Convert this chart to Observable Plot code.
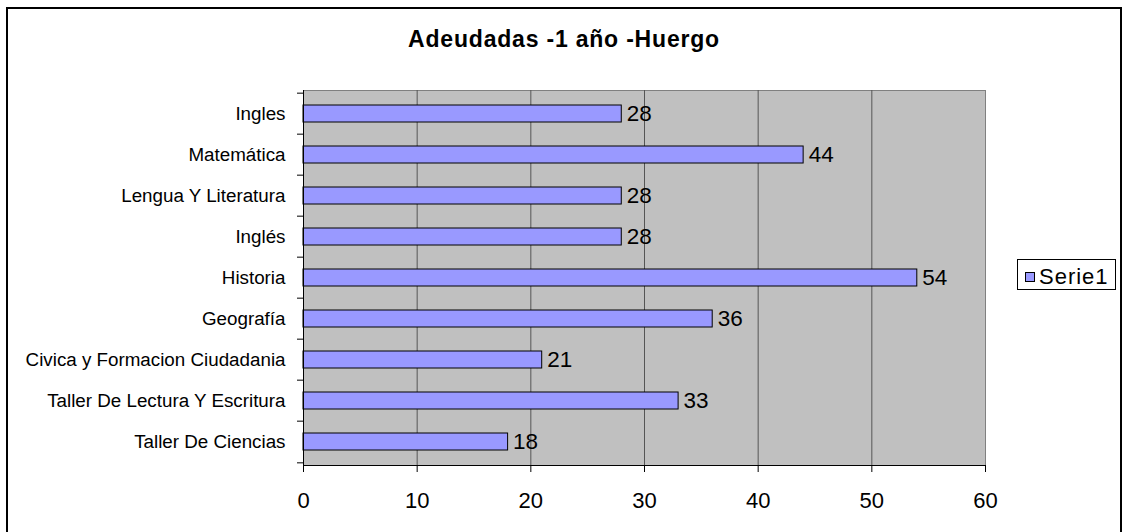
<!DOCTYPE html>
<html><head><meta charset="utf-8">
<script src="https://cdn.jsdelivr.net/npm/d3@7"></script>
<script src="https://cdn.jsdelivr.net/npm/@observablehq/plot@0.6"></script>
<style>
body{margin:0;background:#fff;font-family:Arial,"Liberation Sans",sans-serif;}
#wrap{position:relative;width:1123px;height:532px;overflow:hidden;background:#fff;}
#wrap svg{position:absolute;left:0;top:0;}
#border{position:absolute;left:6px;top:7px;width:1116px;height:540px;box-sizing:border-box;border:2px solid #000;pointer-events:none;}
#title{position:absolute;left:314px;width:500px;top:28px;text-align:center;font-weight:bold;font-size:23px;line-height:23px;letter-spacing:0.8px;color:#000;white-space:nowrap;}
#legend{position:absolute;left:1017px;top:259px;width:99px;height:31px;box-sizing:border-box;border:1px solid #000;background:#fff;}
#legend .sw{position:absolute;left:7px;top:12px;width:10px;height:10px;box-sizing:border-box;border:1px solid #000;background:#9999FF;}
#legend .lb{position:absolute;left:21px;top:6px;font-size:22px;line-height:22px;letter-spacing:1px;color:#000;white-space:nowrap;}
</style></head><body>
<div id="wrap"></div>
<script>
const categories = ["Ingles","Matemática","Lengua Y Literatura","Inglés","Historia","Geografía","Civica y Formacion Ciudadania","Taller De Lectura Y Escritura","Taller De Ciencias"];
const values = [28,44,28,28,54,36,21,33,18];
const xTicks = [0,10,20,30,40,50,60];
const gridTicks = [10,20,30,40,50];
const titleText = "Adeudadas -1 año -Huergo";
const seriesName = "Serie1";

const data = categories.map((c,i)=>({cat:c, value:values[i]}));
const W=1123, H=532, mL=303, mR=138, mT=90, mB=67;
const step = (H-mT-mB)/categories.length;
const font = 'Arial, "Liberation Sans", sans-serif';

const chart = Plot.plot({
  width:W, height:H, marginLeft:mL, marginRight:mR, marginTop:mT, marginBottom:mB,
  style:{fontFamily:font, background:"transparent", color:"#000"},
  x:{domain:[xTicks[0], xTicks[xTicks.length-1]], label:null},
  y:{domain:categories, paddingInner:0.59, paddingOuter:0.295, label:null},
  marks:[
    Plot.frame({fill:"#C0C0C0", stroke:"#808080"}),
    Plot.ruleX(gridTicks,{stroke:"#555", strokeWidth:1}),
    Plot.barX(data,{x:"value", y:"cat", fill:"#9999FF", stroke:"#000", strokeWidth:1}),
    Plot.text(data,{x:"value", y:"cat", text:"value", textAnchor:"start", dx:5, fontSize:22.5, fill:"#000"}),
    Plot.ruleX([xTicks[0]],{stroke:"#000"}),
    Plot.frame({anchor:"bottom", stroke:"#000"}),
    Plot.axisX({ticks:xTicks, tickSize:7, tickPadding:20, fontSize:22, label:null}),
    Plot.axisY({tickSize:0, tickPadding:18, fontSize:18.8, label:null}),
    Plot.axisY({tickSize:6, text:null, dy:-step/2, label:null}),
    Plot.axisY({ticks:[categories[categories.length-1]], tickSize:6, text:null, dy:step/2, label:null})
  ]
});
const wrap = document.getElementById("wrap");
wrap.appendChild(chart);
const t = document.createElement("div"); t.id="title"; t.textContent=titleText; wrap.appendChild(t);
const lg = document.createElement("div"); lg.id="legend";
lg.innerHTML = '<div class="sw"></div><div class="lb"></div>';
lg.querySelector(".lb").textContent = seriesName;
wrap.appendChild(lg);
const b = document.createElement("div"); b.id="border"; wrap.appendChild(b);
</script>
</body></html>
